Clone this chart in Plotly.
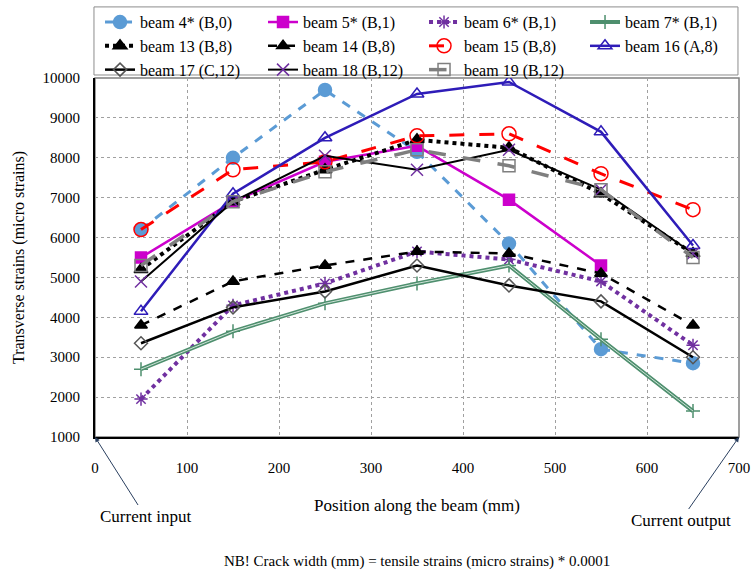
import plotly.graph_objects as go

positions = [50, 150, 250, 350, 450, 550, 650]

beam4 = [6200, 8000, 9700, 8150, 5850, 3200, 2850]
beam5 = [5500, 6900, 7900, 8300, 6950, 5300, None]
beam6 = [1950, 4300, 4850, 5650, 5450, 4900, 3300]
beam7 = [2700, 3650, 4350, 4850, 5300, 3450, 1650]
beam13 = [5200, 6900, 7700, 8450, 8250, 7100, 5600]
beam14 = [3800, 4900, 5300, 5650, 5600, 5100, 3800]
beam15 = [6200, 7700, 7900, 8550, 8600, 7600, 6700]
beam16 = [4150, 7100, 8500, 9600, 9900, 8650, 5800]
beam17 = [3350, 4250, 4650, 5300, 4800, 4400, 3000]
beam18 = [4900, 6900, 8050, 7700, 8200, 7200, 5600]
beam19 = [5300, 6900, 7650, 8200, 7800, 7200, 5500]

x_ticks = [0, 100, 200, 300, 400, 500, 600, 700]
y_ticks = [1000, 2000, 3000, 4000, 5000, 6000, 7000, 8000, 9000, 10000]

FONT = "Liberation Serif"
fig = go.Figure()

def add(name, y, color, width, dash, symbol, msize, legend, mcolor=None):
    fig.add_trace(go.Scatter(
        x=positions, y=y, name=name, mode="lines+markers", legend=legend,
        line=dict(color=color, width=width, dash=dash),
        marker=dict(symbol=symbol, size=msize, color=mcolor or color,
                    line=dict(color=mcolor or color, width=1.5)),
    ))

add("beam 4* (B,0)", beam4, "#5B9BD5", 3, "dash", "circle", 13, "legend")
add("beam 5* (B,1)", beam5, "#CC00CC", 2.5, "solid", "square", 11, "legend2")
add("beam 6* (B,1)", beam6, "#7030A0", 4, "dot", "asterisk-open", 11, "legend3")
# beam 7: double line effect
fig.add_trace(go.Scatter(x=positions, y=beam7, name="beam 7* (B,1)", mode="lines+markers",
                         legend="legend4",
                         line=dict(color="#4E8F6E", width=4),
                         marker=dict(symbol="cross-thin-open", size=10, color="#4E8F6E",
                                     line=dict(color="#4E8F6E", width=1.5))))
fig.add_trace(go.Scatter(x=positions, y=beam7, mode="lines", showlegend=False,
                         line=dict(color="#CFE3D8", width=1), hoverinfo="skip"))
add("beam 13 (B,8)", beam13, "black", 4, "dot", "triangle-up", 12, "legend")
add("beam 14 (B,8)", beam14, "black", 2.5, "dash", "triangle-up", 11, "legend2")
add("beam 15 (B,8)", beam15, "#FF0000", 3, "longdash", "circle-open", 14, "legend3")
add("beam 16 (A,8)", beam16, "#2E1CB8", 2.5, "solid", "triangle-up-open", 12, "legend4")
add("beam 17 (C,12)", beam17, "black", 2.5, "solid", "diamond-open", 10, "legend", mcolor="#555555")
add("beam 18 (B,12)", beam18, "black", 2, "solid", "x-thin-open", 12, "legend2", mcolor="#7030A0")
add("beam 19 (B,12)", beam19, "#7F7F7F", 3.5, "longdash", "square-open", 12, "legend3", mcolor="#7F7F7F")

fig.add_annotation(x=0, y=1000, xref="x", yref="y", text="Current input",
                   showarrow=True, arrowhead=2, arrowsize=1, arrowwidth=1,
                   ax=50, ay=79, font=dict(family=FONT, size=17, color="black"))
fig.add_annotation(x=700, y=1000, xref="x", yref="y", text="Current output",
                   showarrow=True, arrowhead=2, arrowsize=1, arrowwidth=1,
                   ax=-58, ay=83, font=dict(family=FONT, size=17, color="black"))
fig.add_annotation(x=0.5, y=-0.348, xref="paper", yref="paper", yanchor="middle",
                   text="NB! Crack width (mm) = tensile strains (micro strains) * 0.0001",
                   showarrow=False, font=dict(family=FONT, size=15, color="black"))

# legend frame
fig.add_shape(type="rect", xref="paper", yref="paper", x0=-0.0016, x1=0.9984,
              y0=1.0084, y1=1.198, line=dict(color="#8C8C8C", width=1),
              fillcolor="white", layer="below")
# plot frame (top/right gray)
fig.add_shape(type="rect", xref="paper", yref="paper", x0=0, x1=1, y0=0, y1=1,
              line=dict(color="#808080", width=1.5), layer="below")

def leg(xpos):
    return dict(orientation="v", x=xpos, y=1.203, xanchor="left", yanchor="top",
                bgcolor="rgba(0,0,0,0)", borderwidth=0,
                font=dict(family=FONT, size=16, color="black"), tracegroupgap=0)

fig.update_layout(
    width=752, height=581,
    margin=dict(l=95, r=13, t=78, b=144, autoexpand=False),
    paper_bgcolor="white", plot_bgcolor="white",
    font=dict(family=FONT, size=15, color="black"),
    legend=leg(0.0078), legend2=leg(0.2609), legend3=leg(0.5109), legend4=leg(0.7609),
    xaxis=dict(range=[0, 700], tickvals=x_ticks, showgrid=True, gridcolor="#A0A0A0",
               griddash="dot", showline=True, linecolor="black", linewidth=2,
               ticks="", zeroline=False, ticklabelstandoff=16,
               tickfont=dict(family=FONT, size=15),
               title=dict(text="Position along the beam (mm)", standoff=24,
                          font=dict(family=FONT, size=17))),
    yaxis=dict(range=[1000, 10000], tickvals=y_ticks, tickformat="d", showgrid=True,
               gridcolor="#A0A0A0",
               griddash="dot", showline=True, linecolor="black", linewidth=2,
               ticks="", zeroline=False, ticklabelstandoff=10,
               tickfont=dict(family=FONT, size=15),
               title=dict(text="Transverse strains (micro strains)", standoff=14,
                          font=dict(family=FONT, size=16))),
)

fig.write_html("out.html")
